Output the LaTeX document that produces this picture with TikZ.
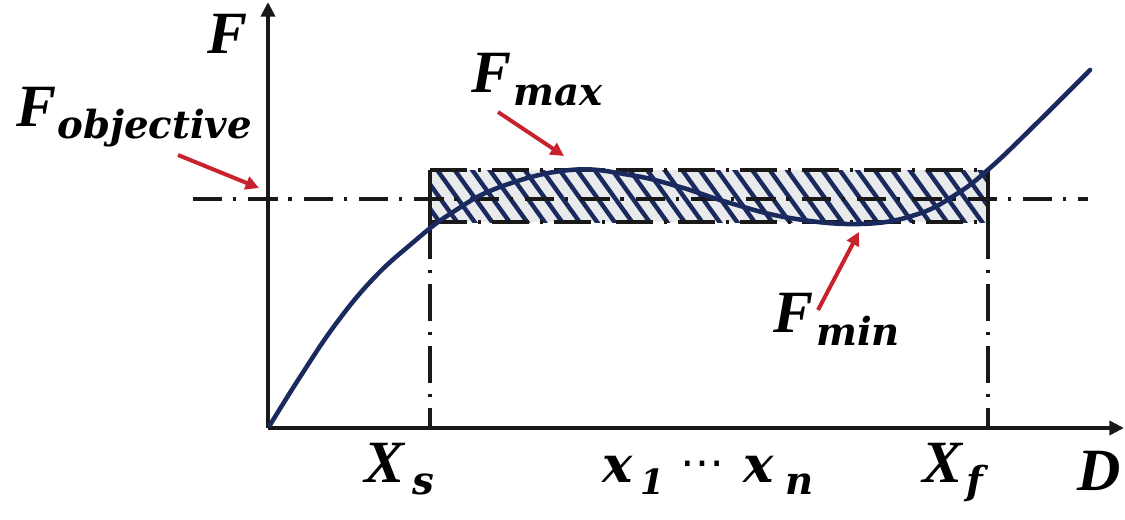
\documentclass[tikz,border=0pt]{standalone}
\usepackage{fontspec}
\setmainfont{Liberation Serif}
\newfontfamily\subf{DejaVu Serif}
\newfontfamily\symf{DejaVu Sans}
\usetikzlibrary{arrows.meta}
\definecolor{navy}{HTML}{1B2A5E}
\definecolor{redarr}{HTML}{C8232C}
\definecolor{hatchbg}{HTML}{E9EAEB}
\begin{document}
\begin{tikzpicture}[x=0.75pt,y=-0.75pt,
  axis/.style={line width=3.6pt,draw=black!90,-{Triangle[length=11pt,width=10.5pt]}},
  dashdot/.style={line width=2.6pt,draw=black!90,dash pattern=on 22pt off 8pt on 2.5pt off 9pt},
  border/.style={line width=3pt,draw=black!90,dash pattern=on 28pt off 8pt on 2.5pt off 8pt},
  curve/.style={line width=3.4pt,draw=navy,line cap=round},
  redarrow/.style={line width=3pt,draw=redarr,-{Triangle[length=10pt,width=10pt]}},
  big/.style={inner sep=0pt,anchor=base west,font=\fontsize{45}{45}\selectfont\bfseries\itshape},
  sub/.style={inner sep=0pt,anchor=base west,font=\fontsize{29}{29}\selectfont\subf\bfseries\itshape},
  smallx/.style={inner sep=0pt,anchor=base west,font=\fontsize{38}{38}\selectfont\subf\bfseries\itshape},
]
\useasboundingbox (0,0) rectangle (1125,519);
% hatched band
\begin{scope}
  \clip (430,170) rectangle (988,222);
  \fill[hatchbg] (430,170) rectangle (988,222);
  \foreach \i in {0,...,38} {
    \draw[navy,line width=3.3pt] (360+\i*17.5,160) -- ++(46,64);
  }
\end{scope}
% coordinates
\coordinate (O) at (268,428);
\coordinate (ytip) at (268,2);
\coordinate (xtip) at (1124,428);
\coordinate (objL) at (193,199);
\coordinate (objR) at (1088,199);
\coordinate (rTL) at (430,170);
\coordinate (rTR) at (988,170);
\coordinate (rBL) at (430,222);
\coordinate (rBR) at (988,222);
\coordinate (xsB) at (430,428);
\coordinate (xfB) at (988,428);
% objective line
\draw[dashdot] (objL) -- (objR);
% vertical lines
\draw[border] (rBL) -- (xsB);
\draw[border] (rBR) -- (xfB);
% rectangle border
\draw[border] (rTL) -- (rTR);
\draw[border] (rBL) -- (rBR);
\draw[line width=3pt,draw=black!90] (rTL) -- (rBL);
\draw[line width=3pt,draw=black!90] (rTR) -- (rBR);
% axes
\draw[axis] (O) -- (ytip);
\draw[axis] (O) -- (xtip);
% curve
\draw[curve] plot[smooth,tension=0.7] coordinates {(270,425) (300,377) (335,325) (372,280) (410,245) (450,214) (500,187) (570,170) (630,175) (680,187) (730,203) (790,218) (860,224) (915,215) (955,195) (990,168) (1040,120) (1090,70)};
% labels
\node[big] (Fax) at (207,53) {F};
\node[big] (Fo) at (16,126) {F};
\node[sub] (Fos) at (57,138) {objective};
\node[big] (Fm) at (471,92) {F};
\node[sub] (Fms) at (513,105) {max};
\node[big] (Fn) at (773,332) {F};
\node[sub] (Fns) at (816,345) {min};
\node[big] (Xs) at (364,482) {X};
\node[sub] (Xss) at (412,494) {s};
\node[smallx] (x1) at (602,482) {x};
\node[inner sep=0pt,anchor=base west,font=\fontsize{26}{26}\selectfont\subf\bfseries\itshape] (x1s) at (640,494) {1};
\node[inner sep=0pt,anchor=base west,font=\fontsize{33}{33}\selectfont\symf] (dots) at (680,477) {⋯};
\node[smallx] (xn) at (743,482) {x};
\node[sub] (xns) at (785,494) {n};
\node[big] (Xf) at (922,482) {X};
\node[sub] (Xfs) at (966,494) {f};
\node[big] (D) at (1077,490) {D};
% red arrows
\coordinate (a1s) at (178,155);
\coordinate (a1e) at (259,188);
\coordinate (a2s) at (498,112);
\coordinate (a2e) at (564,156);
\coordinate (a3s) at (818,310);
\coordinate (a3e) at (859,232);
\draw[redarrow] (a1s) -- (a1e);
\draw[redarrow] (a2s) -- (a2e);
\draw[redarrow] (a3s) -- (a3e);
\end{tikzpicture}
\end{document}
